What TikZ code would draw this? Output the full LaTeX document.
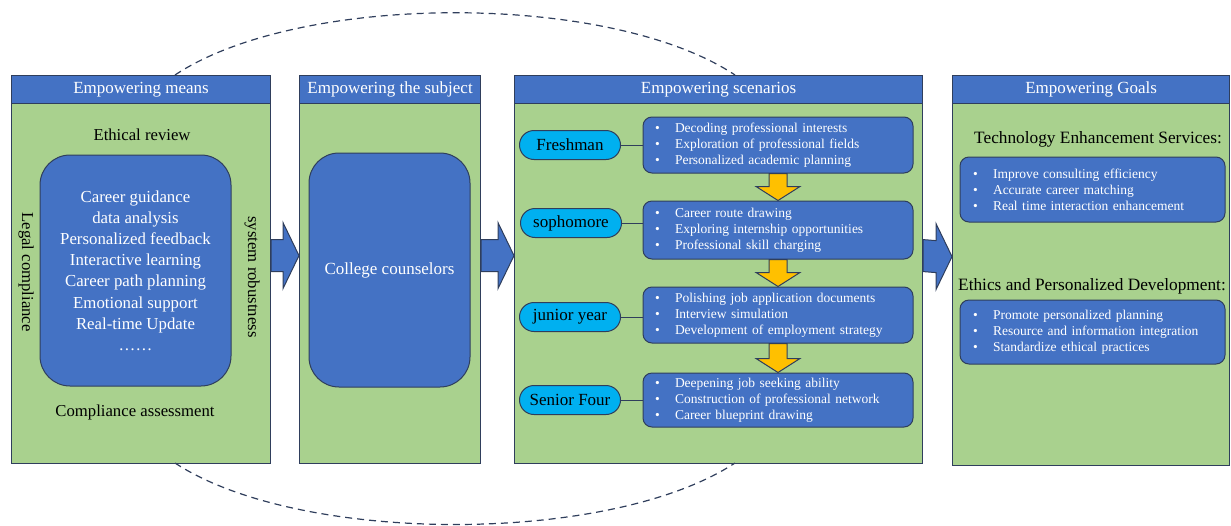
\documentclass[tikz,border=0pt]{standalone}
\usepackage{fontspec}
\setmainfont{Liberation Serif}
\usetikzlibrary{positioning}
\definecolor{headblue}{HTML}{4472C4}
\definecolor{panelgreen}{HTML}{A9D18E}
\definecolor{navyline}{HTML}{2F3E5C}
\definecolor{yearcyan}{HTML}{00B0F0}
\definecolor{dropyellow}{HTML}{FFC000}
\tikzset{
    panel/.style = {draw=navyline, fill=panelgreen, line width=1.2pt, anchor=north west, inner sep=0pt},
    panel-head/.style = {draw=navyline, fill=headblue, line width=1.2pt, anchor=north west, text=white, minimum height=28pt, inner sep=0pt, font=\fontsize{17}{19}\selectfont},
    core-box/.style = {draw=navyline, fill=headblue, rounded corners=30pt, text=white, line width=1pt, align=center, inner sep=0pt},
    side-text/.style = {font=\fontsize{16.7}{19}\selectfont, inner sep=0pt},
    year-box/.style = {draw=navyline, fill=yearcyan, rounded corners=14.5pt, line width=1pt, minimum width=101pt, minimum height=29pt, inner sep=0pt, font=\fontsize{17}{19}\selectfont},
    task-box/.style = {draw=navyline, fill=headblue, rounded corners=9pt, line width=1pt, text=white, align=left, inner xsep=12pt, inner ysep=0pt, font=\fontsize{13.5}{16}\selectfont},
    goal-title/.style = {font=\fontsize{17.3}{19}\selectfont, inner sep=0pt},
    big-arrow/.style = {draw=navyline, fill=headblue, line width=1pt},
    drop-arrow/.style = {draw=navyline, fill=dropyellow, line width=1pt},
    loop-line/.style = {draw=navyline, line width=1.2pt, dash pattern=on 7pt off 5pt},
}
\newcommand{\itm}[1]{\makebox[20pt][l]{\textbullet}#1}

\begin{document}
\begin{tikzpicture}[x=1pt, y=-1pt]
\useasboundingbox (0,0) rectangle (1231,525);

% four panels
\node[panel, minimum width=259pt, minimum height=388pt] (means) at (11,75) {};
\node[panel, minimum width=181pt, minimum height=388pt] (subject) at (299,75) {};
\node[panel, minimum width=408pt, minimum height=388pt] (scene) at (514,75) {};
\node[panel, minimum width=277pt, minimum height=390pt] (goals) at (952,75) {};
\node[panel-head, minimum width=259pt] (means-head) at (11,75) {Empowering means};
\node[panel-head, minimum width=181pt] (subject-head) at (299,75) {Empowering the subject};
\node[panel-head, minimum width=408pt] (scene-head) at (514,75) {Empowering scenarios};
\node[panel-head, minimum width=277pt] (goals-head) at (952,75) {Empowering Goals};

% means
\node[side-text] (ethic) at (142,135) {Ethical review};
\node[side-text] (assess) at (135,412) {Compliance assessment};
\node[side-text, rotate=-90] (legal) at (26,272) {Legal compliance};
\node[side-text, rotate=-90] (robust) at (252,277) {system robustness};
\node[core-box, minimum width=191pt, minimum height=231pt, font=\fontsize{16.8}{21.2}\selectfont] (tools) at (135.5,270.5)
    {Career guidance\\data analysis\\Personalized feedback\\Interactive learning\\Career path planning\\Emotional support\\Real-time Update\\\textellipsis\textellipsis};

% subject
\node[core-box, minimum width=161pt, minimum height=234pt, font=\fontsize{17}{19}\selectfont] (counsel) at (389.5,270) {College counselors};

% scenarios
\node[year-box] (fresh) at (570,145) {Freshman};
\node[year-box] (soph) at (571,223) {sophomore};
\node[year-box] (junior) at (570,317) {junior year};
\node[year-box] (senior) at (570,400) {Senior Four};
\node[task-box, text width=246pt, minimum height=56pt] (fresh-task) at (778,145)
    {\itm{Decoding professional interests}\\\itm{Exploration of professional fields}\\\itm{Personalized academic planning}};
\node[task-box, text width=246pt, minimum height=58pt] (soph-task) at (778,230)
    {\itm{Career route drawing}\\\itm{Exploring internship opportunities}\\\itm{Professional skill charging}};
\node[task-box, text width=246pt, minimum height=56pt] (junior-task) at (778,315)
    {\itm{Polishing job application documents}\\\itm{Interview simulation}\\\itm{Development of employment strategy}};
\node[task-box, text width=246pt, minimum height=54pt] (senior-task) at (778,400)
    {\itm{Deepening job seeking ability}\\\itm{Construction of professional network}\\\itm{Career blueprint drawing}};
\foreach \y in {fresh, soph, junior, senior}
    \draw[navyline, line width=1pt] (\y.east) -- (\y.east -| \y-task.west);
\foreach \a/\b in {fresh/soph, soph/junior, junior/senior}
    \draw[drop-arrow] ([xshift=-9pt]\a-task.south) -- ([xshift=-9pt,yshift=14pt]\b-task.north)
        -- ([xshift=-22pt,yshift=14pt]\b-task.north) -- (\b-task.north)
        -- ([xshift=22pt,yshift=14pt]\b-task.north) -- ([xshift=9pt,yshift=14pt]\b-task.north)
        -- ([xshift=9pt]\a-task.south) -- cycle;

% goals
\node[goal-title] (tech) at (1098,139) {Technology Enhancement Services:};
\node[task-box, text width=239pt, minimum height=65pt, inner xsep=13pt] (tech-list) at (1092.5,189.5)
    {\itm{Improve consulting efficiency}\\\itm{Accurate career matching}\\\itm{Real time interaction enhancement}};
\node[goal-title] (ethics) at (1092,286) {Ethics and Personalized Development:};
\node[task-box, text width=239pt, minimum height=64pt, inner xsep=13pt] (ethics-list) at (1092.5,332)
    {\itm{Promote personalized planning}\\\itm{Resource and information integration}\\\itm{Standardize ethical practices}};

% block arrows between panels
\foreach \a/\b in {means/subject, subject/scene, scene/goals}
    \draw[big-arrow] ([yshift=30pt]\a.east) -- ([xshift=-16pt,yshift=30pt]\b.west)
        -- ([xshift=-16pt,yshift=47pt]\b.west) -- ([yshift=14pt]\b.west)
        -- ([xshift=-16pt,yshift=-19pt]\b.west) -- ([xshift=-16pt,yshift=-2pt]\b.west)
        -- ([yshift=-2pt]\a.east) -- cycle;

% dashed loop
\coordinate (loop-top-l) at (175,75);
\coordinate (loop-top-r) at (735,75);
\coordinate (loop-bot-l) at (175,463);
\coordinate (loop-bot-r) at (735,463);
\draw[loop-line] (loop-top-l) .. controls (300,-8) and (610,-8) .. (loop-top-r);
\draw[loop-line] (loop-bot-l) .. controls (300,545) and (610,545) .. (loop-bot-r);
\end{tikzpicture}
\end{document}
